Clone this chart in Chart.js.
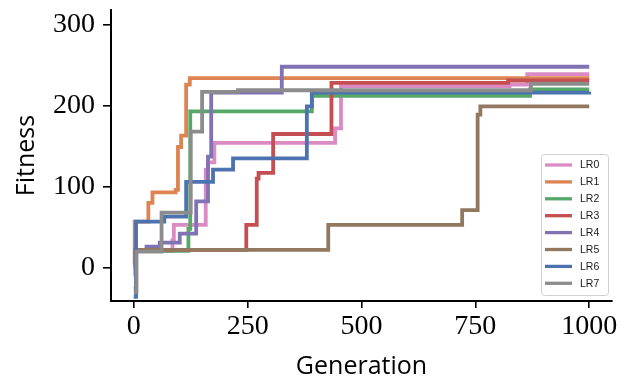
<!DOCTYPE html>
<html>
<head>
<meta charset="utf-8">
<script src="https://cdn.jsdelivr.net/npm/chart.js@4"></script>
<style>
  body { margin: 0; background: #fff; }
  #wrap { width: 623px; height: 385px; position: relative; }
</style>
</head>
<body>
<div id="wrap"><canvas id="fitChart"></canvas></div>
<script>
// best fitness per learning rate, as (generation, value) change points
const labels = ['LR0', 'LR1', 'LR2', 'LR3', 'LR4', 'LR5', 'LR6', 'LR7'];
const colors = ['#DA8BC3', '#DD8452', '#55A868', '#C44E52', '#8172B3', '#937860', '#4C72B0', '#8C8C8C'];

const lr0Gen = [0, 3, 85, 88, 158, 163, 177, 442, 455, 825, 864, 1000];
const lr0Fit = [-10, 21, 34, 53, 121, 130, 154, 172, 224, 226, 239, 239];
const lr1Gen = [0, 2, 32, 41, 92, 97, 104, 115, 123, 1000];
const lr1Fit = [5, 57, 80, 93, 96, 149, 163, 226, 234, 234];
const lr2Gen = [0, 5, 120, 124, 391, 870, 1000];
const lr2Fit = [-25, 21, 48, 193, 212, 220, 220];
const lr3Gen = [0, 247, 270, 274, 306, 434, 822, 1000];
const lr3Fit = [22, 53, 110, 117, 165, 228, 231, 231];
const lr4Gen = [0, 3, 28, 57, 101, 137, 163, 170, 325, 1000];
const lr4Fit = [0, 22, 26, 31, 42, 82, 137, 216, 248, 248];
const lr5Gen = [0, 5, 427, 721, 755, 761, 1000];
const lr5Fit = [11, 22, 53, 71, 189, 199, 199];
const lr6Gen = [0, 5, 67, 115, 174, 218, 380, 391, 1000];
const lr6Fit = [-36, 57, 63, 106, 121, 135, 199, 216, 217];
const lr7Gen = [0, 6, 61, 125, 150, 229, 872, 1000];
const lr7Fit = [-30, 20, 68, 168, 217, 219, 227, 227];

const gens = [lr0Gen, lr1Gen, lr2Gen, lr3Gen, lr4Gen, lr5Gen, lr6Gen, lr7Gen];
const fits = [lr0Fit, lr1Fit, lr2Fit, lr3Fit, lr4Fit, lr5Fit, lr6Fit, lr7Fit];

const xTicks = [0, 250, 500, 750, 1000];
const yTicks = [0, 100, 200, 300];

const datasets = labels.map((name, i) => ({
    label: name,
    data: gens[i].map((g, k) => ({ x: g, y: fits[i][k] })),
    borderColor: colors[i],
    backgroundColor: colors[i],
    borderWidth: 3.8,
    pointRadius: 0,
    stepped: 'before',   // hold the value until the next change point
    order: labels.length - i
}));

// legend box drawn inside the lower right of the plot
const boxLegend = {
    id: 'boxLegend',
    afterDraw(chart) {
        const c = chart.ctx;
        const a = chart.chartArea;
        const w = 67, h = 141;
        const x0 = a.right - 4 - w, y0 = a.bottom - 6 - h;
        c.save();
        c.fillStyle = 'rgba(255,255,255,0.8)';
        c.strokeStyle = '#d0d0d0';
        c.lineWidth = 1;
        c.beginPath();
        c.roundRect(x0 + 0.5, y0 + 0.5, w, h, 3);
        c.fill();
        c.stroke();
        c.font = '10.5px "Liberation Sans"';
        c.textBaseline = 'middle';
        chart.data.datasets.forEach((ds, i) => {
            const y = y0 + 11 + i * 16.9;
            c.strokeStyle = ds.borderColor;
            c.lineWidth = 3.3;
            c.beginPath();
            c.moveTo(x0 + 4, y);
            c.lineTo(x0 + 31, y);
            c.stroke();
            c.fillStyle = '#1a1a1a';
            c.fillText(ds.label, x0 + 39, y + 0.5);
        });
        c.restore();
    }
};

const tickFont = { family: '"Liberation Serif", serif', size: 28 };
const titleFont = { family: '"Open Sans", sans-serif', size: 25 };

new Chart(document.getElementById('fitChart'), {
    type: 'line',
    data: { datasets: datasets },
    options: {
        responsive: true,
        maintainAspectRatio: false,
        animation: false,
        layout: { padding: { top: 10, right: 11 } },
        plugins: { legend: { display: false }, tooltip: { enabled: false } },
        scales: {
            x: {
                type: 'linear',
                min: -50,
                max: 1050,
                afterBuildTicks: s => { s.ticks = xTicks.map(v => ({ value: v })); },
                afterFit: s => { s.height = 84; s.paddingLeft = 0; s.paddingRight = 0; },
                grid: { drawOnChartArea: false, drawTicks: true, tickLength: 7, color: '#000', lineWidth: 1.6 },
                border: { display: true, color: '#000', width: 2 },
                ticks: { color: '#000', font: tickFont, padding: 2, maxRotation: 0, callback: v => String(v) },
                title: { display: true, text: 'Generation', color: '#000', font: titleFont, padding: { bottom: 3 } }
            },
            y: {
                type: 'linear',
                min: -41,
                max: 318,
                afterBuildTicks: s => { s.ticks = yTicks.map(v => ({ value: v })); },
                afterFit: s => { s.width = 111; s.paddingTop = 0; s.paddingBottom = 0; },
                grid: { drawOnChartArea: false, drawTicks: true, tickLength: 8, color: '#000', lineWidth: 1.6 },
                border: { display: true, color: '#000', width: 2 },
                ticks: { color: '#000', font: tickFont, padding: 8, callback: v => String(v) },
                title: { display: true, text: 'Fitness', color: '#000', font: titleFont, padding: { top: 12 } }
            }
        }
    },
    plugins: [boxLegend]
});
</script>
</body>
</html>
